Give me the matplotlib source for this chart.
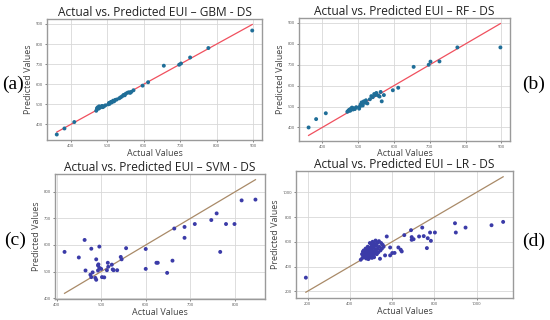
import matplotlib
matplotlib.use("Agg")
import matplotlib.pyplot as plt

# shared test set for GBM / RF panels
actual_ab = [362, 383, 410, 470, 472, 474, 476, 478, 480, 483, 486, 488, 491, 495, 503, 505,
             507, 510, 513, 516, 519, 522, 526, 533, 537, 541, 545, 548, 551, 556, 560, 563,
             566, 572, 597, 612, 655, 697, 702, 727, 777, 897]
gbm_pred = [350, 380, 412, 468, 480, 485, 478, 490, 483, 488, 492, 486, 490, 495, 500, 507,
            503, 512, 510, 518, 515, 522, 524, 530, 535, 540, 547, 545, 553, 558, 560, 557,
            562, 570, 593, 610, 692, 697, 703, 733, 780, 867]
rf_pred = [400, 440, 468, 475, 478, 482, 485, 480, 490, 495, 486, 492, 488, 497, 490, 500,
           510, 520, 505, 525, 518, 530, 515, 535, 550, 545, 560, 555, 565, 553, 548, 570,
           525, 555, 578, 590, 690, 700, 715, 716, 783, 783]

svm_actual = [418, 450, 463, 465, 478, 489, 496, 476, 478, 481, 487, 489, 493, 493, 494, 496,
              500, 502, 507, 513, 515, 516, 524, 526, 528, 536, 544, 546, 556, 600, 600, 624,
              627, 648, 660, 664, 687, 687, 710, 747, 759, 767, 780, 799, 815, 846]
svm_pred = [574, 553, 619, 504, 586, 546, 594, 488, 479, 497, 476, 469, 504, 523, 527, 514,
            510, 479, 478, 505, 533, 518, 526, 508, 505, 505, 555, 546, 588, 585, 510, 533,
            533, 495, 541, 662, 668, 627, 679, 694, 719, 574, 679, 679, 768, 771]

lr_actual = [192, 1126, 1071, 898, 902, 948, 743, 690, 658, 780, 803, 693, 693, 702, 728, 750,
             769, 784, 765, 630, 641, 646, 591, 591, 601, 567, 543, 575, 612,
             452, 460, 465, 468, 470, 472, 474, 476, 478, 480, 482, 484, 486, 488, 490, 492,
             494, 496, 498, 500, 502, 504, 506, 508, 510, 512, 514, 516, 518, 520, 522, 524,
             526, 528, 530, 532, 535, 538, 540, 545, 548, 552, 556, 560, 466, 475, 485, 495,
             505, 515, 458, 462, 478, 488, 498]
lr_pred = [310, 761, 734, 750, 675, 715, 715, 694, 654, 675, 675, 638, 616, 621, 643, 646,
           629, 608, 549, 554, 536, 522, 554, 490, 509, 490, 463, 643, 510,
           455, 470, 490, 505, 480, 500, 515, 470, 490, 525, 505, 480, 495, 540, 515, 470,
           500, 530, 555, 485, 510, 575, 545, 600, 520, 490, 560, 585, 505, 540, 610, 525,
           570, 500, 590, 545, 515, 605, 560, 530, 590, 545, 575, 560, 530, 545, 560, 590,
           470, 475, 500, 520, 465, 460, 478]

W, H = 550, 320
fig = plt.figure(figsize=(W / 100, H / 100), dpi=100)
plt.rcParams['font.family'] = ['Open Sans', 'DejaVu Sans']


def panel(box, x, y, title, pt_color, line_color, xticks, yticks, tag, tag_x, tag_y,
          title_pad=2, xlabel_pad=0.5):
    l, t, r, b = box
    ax = fig.add_axes([l / W, 1 - b / H, (r - l) / W, (b - t) / H])
    ax.scatter(x, y, s=8, color=pt_color, edgecolors="none", zorder=3)
    lo, hi = min(x), max(x)
    ax.plot([lo, hi], [lo, hi], color=line_color, lw=0.9, zorder=2)
    ax.set_xticks(xticks)
    ax.set_yticks(yticks)
    ax.tick_params(labelsize=3, length=1.5, width=0.5, pad=1.5, colors="#555555")
    ax.grid(True, color="#d8d8d8", lw=0.6)
    ax.set_axisbelow(True)
    for s in ax.spines.values():
        s.set_color("#9a9a9a")
        s.set_linewidth(1.0)
    ax.set_title(title, fontsize=8.6, color="#222222", pad=title_pad)
    ax.set_xlabel("Actual Values", fontsize=6.5, color="#444444", labelpad=xlabel_pad)
    ax.set_ylabel("Predicted Values", fontsize=6.5, color="#444444", labelpad=2)
    fig.text(tag_x / W, 1 - tag_y / H, tag, fontsize=14, family="Liberation Serif",
             ha="center", va="center")
    return ax


ticks_ab = [400, 500, 600, 700, 800, 900]
panel((47, 19, 262, 140), actual_ab, gbm_pred, "Actual vs. Predicted EUI – GBM - DS",
      "#1f6e98", "#f0505e", ticks_ab, ticks_ab, "(a)", 13, 84)
panel((299, 18, 510, 141), actual_ab, rf_pred, "Actual vs. Predicted EUI – RF - DS",
      "#1f6e98", "#f0505e", ticks_ab, ticks_ab, "(b)", 534, 84, xlabel_pad=0)
panel((55, 174, 265, 299), svm_actual, svm_pred, "Actual vs. Predicted EUI – SVM - DS",
      "#3b3ba8", "#a98a68", [400, 500, 600, 700, 800], [400, 500, 600, 700, 800],
      "(c)", 15, 240)
panel((296, 171, 513, 298), lr_actual, lr_pred, "Actual vs. Predicted EUI – LR - DS",
      "#3b3ba8", "#a98a68", [200, 400, 600, 800, 1000], [200, 400, 600, 800, 1000],
      "(d)", 534, 241, title_pad=1)

fig.savefig("out.png", dpi=100)
